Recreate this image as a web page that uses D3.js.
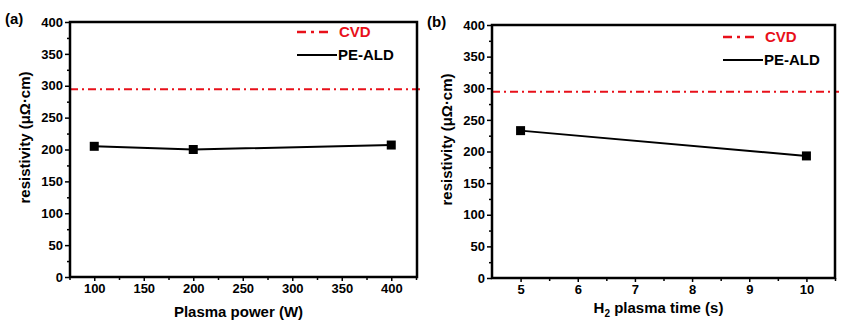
<!DOCTYPE html>
<html>
<head>
<meta charset="utf-8">
<script src="https://cdnjs.cloudflare.com/ajax/libs/d3/7.8.5/d3.min.js"></script>
<style>
  body { margin: 0; background: #fff; }
  svg text { font-family: "Liberation Sans", Arial, sans-serif; font-weight: bold; fill: #000; }
</style>
</head>
<body>
<div id="chart"></div>
<script>
// resistivity vs plasma power
var powerW = [100, 200, 400];
var resistPower = [205, 200, 207];
// resistivity vs H2 plasma time
var timeS = [5, 10];
var resistTime = [233, 193];
// CVD reference resistivity
var cvdResist = 294.5;

var powerTicks = [100, 150, 200, 250, 300, 350, 400];
var powerMinor = [75, 125, 175, 225, 275, 325, 375, 425];
var timeTicks = [5, 6, 7, 8, 9, 10];
var timeMinor = [5.5, 6.5, 7.5, 8.5, 9.5, 10.5];
var resistTicks = [0, 50, 100, 150, 200, 250, 300, 350, 400];
var resistMinor = [25, 75, 125, 175, 225, 275, 325, 375];

var svg = d3.select("#chart").append("svg")
    .attr("width", 850)
    .attr("height", 325);

var drawPanel = function(p) {
	var x = d3.scaleLinear().domain(p.xDomain).range([p.left, p.right]);
	var y = d3.scaleLinear().domain([0, 400]).range([p.bottom, p.top]);
	var g = svg.append("g");

	// minor ticks first, majors on top
	g.append("g")
		.attr("transform", "translate(0," + p.bottom + ")")
		.call(d3.axisBottom(x).tickValues(p.xMinor).tickSize(3).tickFormat(""))
		.call(function(a) { a.select(".domain").remove(); a.selectAll("line").attr("stroke-width", 1.5); });
	g.append("g")
		.attr("transform", "translate(" + p.left + ",0)")
		.call(d3.axisLeft(y).tickValues(resistMinor).tickSize(3).tickFormat(""))
		.call(function(a) { a.select(".domain").remove(); a.selectAll("line").attr("stroke-width", 1.5); });

	var xAxis = g.append("g")
		.attr("transform", "translate(0," + p.bottom + ")")
		.call(d3.axisBottom(x).tickValues(p.xTicks).tickFormat(d3.format("d")).tickSize(4).tickPadding(3).tickSizeOuter(0));
	xAxis.select(".domain").remove();
	xAxis.selectAll("line").attr("stroke-width", 1.5);
	xAxis.selectAll("text").attr("font-size", 13).attr("font-family", null);

	var yAxis = g.append("g")
		.attr("transform", "translate(" + p.left + ",0)")
		.call(d3.axisLeft(y).tickValues(resistTicks).tickSize(5).tickPadding(2).tickSizeOuter(0));
	yAxis.select(".domain").remove();
	yAxis.selectAll("line").attr("stroke-width", 1.5);
	yAxis.selectAll("text").attr("font-size", 13).attr("font-family", null);

	// CVD reference line
	g.append("line")
		.attr("x1", p.left).attr("x2", p.right + 4)
		.attr("y1", y(cvdResist)).attr("y2", y(cvdResist))
		.attr("stroke", "#e8101a").attr("stroke-width", 2)
		.attr("stroke-dasharray", "8,4,2,4");

	// PE-ALD series
	var pts = p.xs.map(function(v, i) { return [v, p.ys[i]]; });
	g.append("path")
		.datum(pts)
		.attr("fill", "none").attr("stroke", "#000").attr("stroke-width", 2)
		.attr("d", d3.line().x(function(d) { return x(d[0]); }).y(function(d) { return y(d[1]); }));
	g.selectAll("rect.pt").data(pts).enter().append("rect")
		.attr("class", "pt")
		.attr("x", function(d) { return x(d[0]) - 4.5; })
		.attr("y", function(d) { return y(d[1]) - 4.5; })
		.attr("width", 9).attr("height", 9)
		.attr("fill", "#000");

	// frame
	g.append("rect")
		.attr("x", p.left).attr("y", p.top)
		.attr("width", p.right - p.left).attr("height", p.bottom - p.top)
		.attr("fill", "none").attr("stroke", "#000").attr("stroke-width", 2.5);

	// legend
	g.append("line")
		.attr("x1", p.legX).attr("x2", p.legX + 36)
		.attr("y1", p.legY).attr("y2", p.legY)
		.attr("stroke", "#e8101a").attr("stroke-width", 2.5)
		.attr("stroke-dasharray", "9,5,3,5");
	g.append("text")
		.attr("x", p.legX + 42).attr("y", p.legY + 5)
		.attr("font-size", 15).style("fill", "#e8101a")
		.text("CVD");
	g.append("line")
		.attr("x1", p.legX).attr("x2", p.legX + 40)
		.attr("y1", p.legY + 23).attr("y2", p.legY + 23)
		.attr("stroke", "#000").attr("stroke-width", 2);
	g.append("text")
		.attr("x", p.legX + 41).attr("y", p.legY + 28)
		.attr("font-size", 15)
		.text("PE-ALD");

	// panel label
	g.append("text")
		.attr("x", p.left - 65).attr("y", p.top + 2)
		.attr("font-size", 15)
		.text(p.tag);

	// axis titles
	g.append("text")
		.attr("transform", "translate(" + (p.left - 40) + "," + ((p.top + p.bottom) / 2 - 12) + ") rotate(-90)")
		.attr("text-anchor", "middle")
		.attr("font-size", 15)
		.text("resistivity (μΩ·cm)");
	var xt = g.append("text")
		.attr("x", (p.left + p.right) / 2 - 5).attr("y", p.bottom + 40)
		.attr("text-anchor", "middle")
		.attr("font-size", 15);
	p.xTitle(xt);
};

drawPanel({
	tag: "(a)", left: 70, right: 417, top: 22, bottom: 277,
	xDomain: [75.5, 426], xTicks: powerTicks, xMinor: powerMinor,
	xs: powerW, ys: resistPower, legX: 297, legY: 32,
	xTitle: function(t) { t.text("Plasma power (W)"); }
});

drawPanel({
	tag: "(b)", left: 492, right: 835, top: 25, bottom: 278,
	xDomain: [4.5, 10.5], xTicks: timeTicks, xMinor: timeMinor,
	xs: timeS, ys: resistTime, legX: 723, legY: 37,
	xTitle: function(t) {
		t.attr("y", 278 + 35);
		t.append("tspan").text("H");
		t.append("tspan").attr("font-size", 10).attr("dy", 4).text("2");
		t.append("tspan").attr("dy", -4).text(" plasma time (s)");
	}
});
</script>
</body>
</html>
